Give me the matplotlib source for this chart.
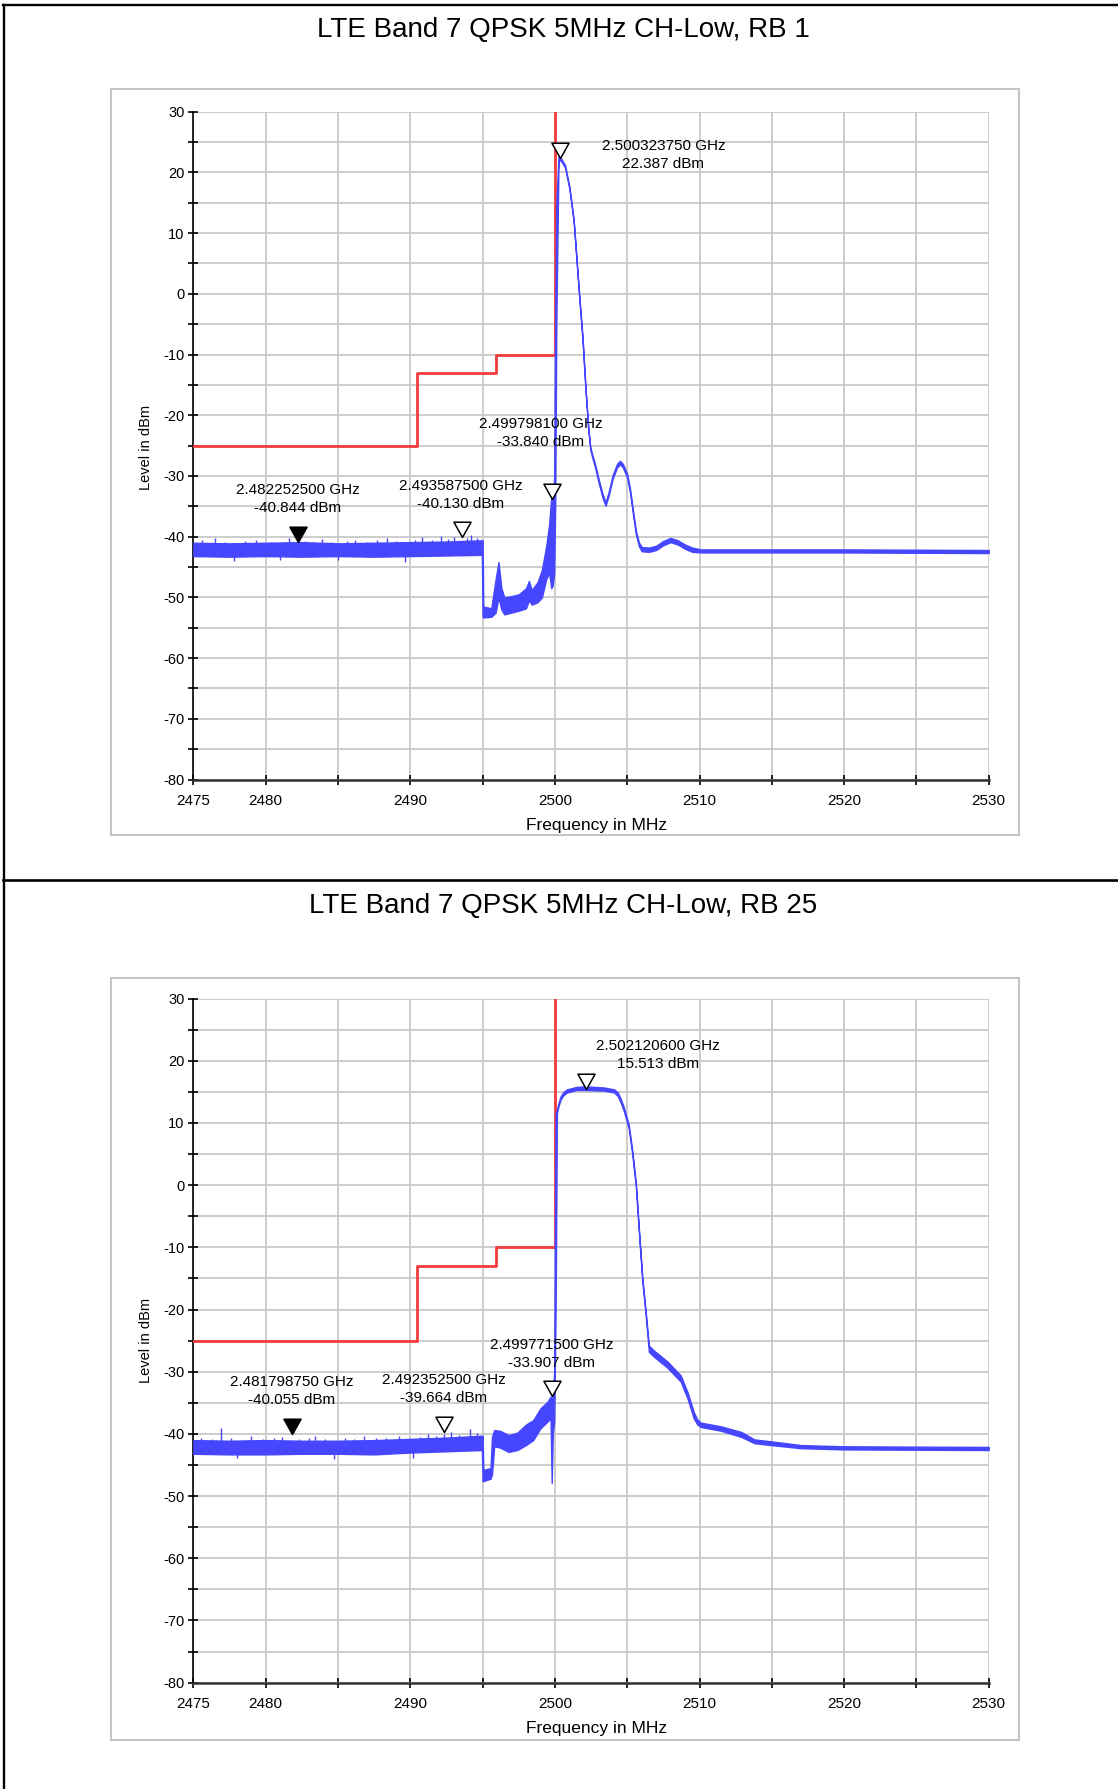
import numpy as np
import matplotlib
matplotlib.use('Agg')
import matplotlib.pyplot as plt
from matplotlib.lines import Line2D
from matplotlib.patches import Rectangle
from matplotlib.path import Path
from matplotlib.ticker import FixedLocator, FuncFormatter

plt.rcParams['font.family'] = ['Liberation Sans', 'DejaVu Sans']

# Spectrum trace RB 1: breakpoints (MHz) with upper / lower edge of the noisy trace (dBm)
rb1_freq = [2475.0, 2477.5, 2480.0, 2482.5, 2485.0, 2487.5, 2490.0, 2492.5, 2494.95,
            2495.0, 2495.05, 2495.6, 2495.9, 2496.1, 2496.3, 2496.5, 2497.0, 2497.5,
            2498.0, 2498.2, 2498.4, 2498.8, 2499.1, 2499.4, 2499.6, 2499.75, 2499.85,
            2499.95, 2500.02, 2500.1, 2500.25, 2500.4, 2500.7, 2501.0, 2501.3, 2501.5,
            2501.7, 2501.9, 2502.1, 2502.3, 2502.45, 2502.6, 2502.8, 2503.0, 2503.3,
            2503.5, 2503.7, 2504.0, 2504.3, 2504.5, 2504.7, 2505.0, 2505.2, 2505.4,
            2505.6, 2505.8, 2506.0, 2506.5, 2507.0, 2507.5, 2508.0, 2508.5, 2509.0,
            2509.5, 2510.1, 2515.0, 2520.0, 2530.0]
rb1_hi = [-41.0, -41.1, -41.0, -40.9, -41.1, -41.0, -40.9, -40.8, -40.6,
          -40.6, -51.5, -51.8, -47.0, -44.2, -48.5, -50.0, -49.8, -49.5,
          -48.5, -47.3, -48.8, -47.5, -45.5, -41.5, -38.0, -33.5, -36.0,
          -30.0, -4.5, 15.0, 22.6, 22.4, 21.2, 17.7, 12.2, 5.7,
          -0.8, -6.8, -14.8, -21.8, -25.3, -26.6, -28.3, -30.3, -33.0,
          -34.3, -32.8, -29.8, -28.0, -27.5, -28.0, -29.7, -32.2, -35.7,
          -39.0, -40.9, -41.7, -41.8, -41.5, -40.7, -40.2, -40.6, -41.3,
          -41.8, -42.1, -42.1, -42.1, -42.2]
rb1_lo = [-43.2, -43.3, -43.2, -43.3, -43.2, -43.3, -43.2, -43.1, -43.0,
          -53.2, -53.3, -53.2, -52.5, -50.0, -52.0, -52.8, -52.5, -52.2,
          -51.8, -50.5, -51.2, -50.8, -50.0, -47.0, -46.0, -48.5, -48.0,
          -46.0, -35.0, -4.5, 21.9, 22.0, 20.8, 17.3, 11.8, 5.3,
          -1.2, -7.2, -15.2, -22.2, -25.7, -27.1, -28.8, -30.9, -33.6,
          -34.9, -33.4, -30.4, -28.6, -28.1, -28.6, -30.3, -32.8, -36.3,
          -39.6, -41.5, -42.4, -42.5, -42.2, -41.4, -40.9, -41.3, -42.0,
          -42.5, -42.6, -42.6, -42.6, -42.7]
rb1_spike_freq = [2475.6, 2476.5, 2477.2, 2477.8, 2478.6, 2479.3, 2480.4, 2481.0, 2481.6,
                  2482.7, 2483.3, 2483.9, 2484.5, 2485.0, 2485.6, 2486.2, 2487.0, 2487.7,
                  2488.4, 2489.0, 2489.6, 2490.3, 2490.8, 2491.5, 2492.1, 2492.6, 2493.0,
                  2493.9, 2494.2, 2494.6]
rb1_spike_level = [-40.6, -40.3, -40.8, -44.0, -40.7, -40.5, -40.8, -43.8, -40.2,
                   -40.7, -40.9, -40.4, -40.8, -43.9, -40.7, -40.6, -40.9, -40.6,
                   -40.2, -40.7, -44.1, -40.6, -40.0, -40.5, -39.9, -40.4, -40.1,
                   -40.3, -39.8, -40.2]

# Spectrum trace RB 25
rb25_freq = [2475.0, 2477.5, 2480.0, 2482.5, 2485.0, 2487.5, 2490.0, 2492.5, 2494.95,
             2495.0, 2495.05, 2495.55, 2495.65, 2495.8, 2496.2, 2496.8, 2497.4, 2498.0,
             2498.5, 2499.0, 2499.5, 2499.7, 2499.78, 2499.85, 2499.95, 2500.05, 2500.14,
             2500.25, 2500.4, 2500.6, 2500.83, 2501.5, 2502.12, 2503.4, 2504.1, 2504.35,
             2504.55, 2504.77, 2504.95, 2505.1, 2505.35, 2505.6, 2505.8, 2506.04, 2506.27,
             2506.5, 2506.85, 2507.8, 2508.7, 2509.17, 2509.6, 2509.85, 2510.1, 2511.5,
             2512.9, 2513.8, 2514.95, 2517.0, 2520.0, 2530.0]
rb25_hi = [-41.0, -41.1, -41.0, -41.1, -41.1, -41.0, -40.8, -40.6, -40.3,
           -40.3, -45.8, -45.5, -40.5, -39.4, -39.5, -40.2, -39.8, -38.5,
           -37.8, -35.9, -34.8, -34.0, -34.5, -34.0, -30.0, 11.5, 12.2,
           13.2, 14.3, 15.0, 15.4, 15.8, 15.9, 15.7, 15.4, 14.9,
           13.9, 12.5, 11.0, 9.8, 5.6, 0.3, -6.7, -14.7, -20.1,
           -25.8, -26.6, -28.4, -30.6, -33.3, -36.5, -37.7, -38.2, -38.8,
           -39.7, -40.9, -41.2, -41.8, -42.0, -42.1]
rb25_lo = [-43.2, -43.3, -43.3, -43.2, -43.2, -43.3, -43.0, -42.8, -42.6,
           -47.6, -47.6, -47.2, -46.5, -42.0, -42.2, -42.9, -42.6, -41.8,
           -41.0, -39.1, -38.0, -37.5, -47.9, -40.0, -38.0, -20.0, 11.6,
           12.7, 13.8, 14.5, 14.9, 15.3, 15.3, 15.2, 14.9, 14.3,
           13.3, 11.9, 10.4, 9.2, 5.0, -0.3, -7.3, -15.3, -20.7,
           -26.8, -27.6, -29.4, -31.6, -34.3, -37.5, -38.5, -38.9, -39.5,
           -40.5, -41.5, -41.8, -42.3, -42.5, -42.6]
rb25_spike_freq = [2475.5, 2476.3, 2476.9, 2477.6, 2478.0, 2479.0, 2479.8, 2480.6, 2481.1,
                   2482.3, 2483.0, 2483.4, 2484.1, 2484.7, 2485.5, 2486.1, 2486.8, 2487.6,
                   2488.3, 2489.2, 2490.2, 2490.7, 2491.2, 2491.8, 2492.3, 2492.8, 2493.4,
                   2494.1, 2494.6]
rb25_spike_level = [-40.7, -40.8, -39.1, -40.6, -43.9, -40.4, -40.9, -40.7, -40.5,
                    -40.8, -40.7, -40.4, -40.9, -44.0, -40.6, -40.8, -40.3, -40.7,
                    -40.6, -40.3, -43.8, -40.5, -40.0, -40.4, -40.1, -39.7, -40.2,
                    -39.2, -39.9]

# Limit line (same for both plots)
limit_freq = [2475.0, 2490.45, 2490.45, 2495.95, 2495.95, 2500.0, 2500.0]
limit_level = [-25.0, -25.0, -13.0, -13.0, -10.0, -10.0, 30.0]

# Markers
rb1_marker_freq = [2482.2525, 2493.5875, 2499.7981, 2500.32375]
rb1_marker_level = [-40.844, -40.130, -33.840, 22.387]
rb25_marker_freq = [2481.79875, 2492.3525, 2499.7715, 2502.1206]
rb25_marker_level = [-40.055, -39.664, -33.907, 15.513]
marker_filled = [True, False, False, False]

titles = ['LTE Band 7 QPSK 5MHz CH-Low, RB 1', 'LTE Band 7 QPSK 5MHz CH-Low, RB 25']
x_labels_shown = [2475, 2480, 2490, 2500, 2510, 2520, 2530]

# label placement (data coords of text block centre)
rb1_label_xy = [(2482.21, -33.8), (2493.5, -33.1), (2499.02, -22.9), (2507.5, 22.9)]
rb25_label_xy = [(2481.82, -33.1), (2492.32, -32.75), (2499.79, -27.15), (2507.12, 20.95)]

W, H = 1118, 1789
BLUE = '#4646ff'
RED = '#f23c3c'
GRID = '#c9c9c9'

tri = Path([(0, 0), (-0.56, 1.0), (0.56, 1.0), (0, 0)],
           [Path.MOVETO, Path.LINETO, Path.LINETO, Path.CLOSEPOLY])


def draw_panel(fig, rect, box, freq, hi, lo, sp_f, sp_l, mk_f, mk_l, lab_xy,
               title, title_y, ylab_y, xlab_y):
    # grey frame around plot area
    fig.add_artist(Rectangle((box[0] / W, 1 - box[3] / H), (box[2] - box[0]) / W,
                             (box[3] - box[1]) / H, transform=fig.transFigure,
                             fill=False, edgecolor='#c4c4c4', lw=1.5))
    fig.text(563 / W, 1 - title_y / H, title, ha='center', va='center', fontsize=20)
    fig.text(146 / W, 1 - ylab_y / H, 'Level in dBm', rotation=90,
             ha='center', va='center', fontsize=10.5)
    fig.text(597 / W, 1 - xlab_y / H, 'Frequency in MHz', ha='center', va='center',
             fontsize=12.5)

    ax = fig.add_axes(rect)
    ax.set_xlim(2475, 2530)
    ax.set_ylim(-80, 30)
    ax.xaxis.set_major_locator(FixedLocator(np.arange(2475, 2531, 5)))
    ax.xaxis.set_major_formatter(FuncFormatter(
        lambda v, p: f'{int(round(v))}' if int(round(v)) in x_labels_shown else ''))
    ax.yaxis.set_major_locator(FixedLocator(np.arange(-80, 31, 5)))
    ax.yaxis.set_major_formatter(FuncFormatter(
        lambda v, p: f'{int(round(v))}' if int(round(v)) % 10 == 0 else ''))
    ax.grid(True, color=GRID, lw=1.3)
    ax.set_axisbelow(True)
    ax.tick_params(direction='inout', length=7, width=1.2, labelsize=10.5)
    ax.tick_params(axis='x', pad=7, labelsize=11)
    ax.tick_params(axis='y', pad=3)
    for s in ['top', 'right']:
        ax.spines[s].set_visible(False)
    ax.spines['left'].set_linewidth(1.2)
    ax.spines['bottom'].set_linewidth(1.8)
    ax.spines['bottom'].set_color('#333333')

    ax.plot(limit_freq, limit_level, color=RED, lw=2, zorder=3)
    ax.fill_between(freq, lo, hi, color=BLUE, edgecolor=BLUE, lw=1.0, zorder=4)
    ax.vlines(sp_f, -42, sp_l, color=BLUE, lw=1.0, zorder=4)

    for f, l, filled, (tx, ty) in zip(mk_f, mk_l, marker_filled, lab_xy):
        ax.plot([f], [l], marker=tri, ms=22, mfc='black' if filled else 'white',
                mec='black', mew=1.1, ls='none', zorder=6)
        ax.text(tx, ty, f'{f / 1000:.9f} GHz\n{l:.3f} dBm', ha='center', va='center',
                fontsize=11, linespacing=1.35, zorder=7)
    return ax


fig = plt.figure(figsize=(W / 100, H / 100), dpi=100)

draw_panel(fig, [193.4 / W, 1 - 779.5 / H, 795.3 / W, 667.8 / H],
           (110.7, 89, 1018.7, 835), rb1_freq, rb1_hi, rb1_lo,
           rb1_spike_freq, rb1_spike_level, rb1_marker_freq, rb1_marker_level,
           rb1_label_xy, titles[0], 30.5, 447, 825)
draw_panel(fig, [193.4 / W, 1 - 1682.6 / H, 795.3 / W, 684.0 / H],
           (110.7, 977.7, 1018.7, 1739.7), rb25_freq, rb25_hi, rb25_lo,
           rb25_spike_freq, rb25_spike_level, rb25_marker_freq, rb25_marker_level,
           rb25_label_xy, titles[1], 905.5, 1340, 1729)

# black page frame lines
fig.add_artist(Line2D([4 / W, 4 / W], [0, 1 - 5 / H], transform=fig.transFigure,
                      color='black', lw=1.7))
fig.add_artist(Line2D([3 / W, 1], [1 - 5 / H, 1 - 5 / H], transform=fig.transFigure,
                      color='black', lw=1.7))
fig.add_artist(Line2D([3 / W, 1], [1 - 880 / H, 1 - 880 / H], transform=fig.transFigure,
                      color='black', lw=1.9))

fig.savefig('out.png', dpi=100)
